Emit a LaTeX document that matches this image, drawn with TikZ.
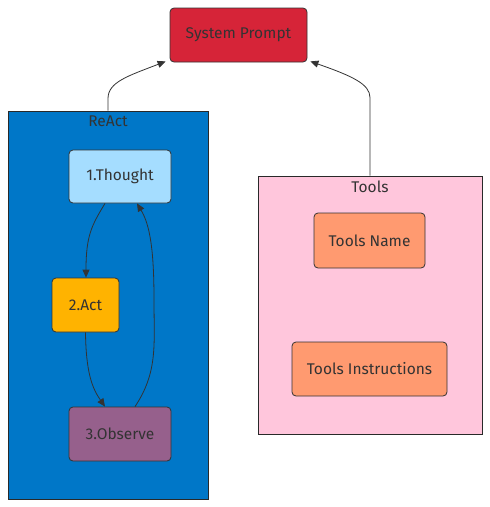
\documentclass[tikz,border=0pt]{standalone}
\usepackage{fontspec}
\setmainfont{Fira Sans}
\usepackage{xcolor}
\usetikzlibrary{positioning,calc,arrows.meta}

\definecolor{txtgray}{HTML}{333333}
\definecolor{sysred}{HTML}{D62438}
\definecolor{reactblue}{HTML}{0077C8}
\definecolor{thoughtblue}{HTML}{A5DDFF}
\definecolor{actorange}{HTML}{FFB300}
\definecolor{observepurple}{HTML}{96608C}
\definecolor{toolspink}{HTML}{FFC6DC}
\definecolor{itemsalmon}{HTML}{FF9A70}

\tikzset{
    box/.style={draw=txtgray, line width=0.8pt, rounded corners=4pt, text=txtgray,
        font=\fontsize{15.5}{18}\selectfont, inner sep=0pt},
    cluster/.style={draw=txtgray!80!black, line width=0.8pt, inner sep=0pt},
    title/.style={text=txtgray, font=\fontsize{15.5}{18}\selectfont, anchor=north, inner sep=5.5pt},
    edge/.style={draw=txtgray, line width=0.8pt, -{Triangle[length=8pt,width=7pt]}}
}

\begin{document}
\begin{tikzpicture}[x=1pt,y=-1pt]
    \useasboundingbox (0,0) rectangle (490,507);

    % Top node
    \node[box, fill=sysred, minimum width=137pt, minimum height=54pt] (sys) at (238.5,35) {System Prompt};

    % ReAct cluster
    \node[cluster, fill=reactblue, minimum width=200pt, minimum height=388pt] (react) at (108,305) {};
    \node[title] (reacttitle) at (react.north) {ReAct};
    \node[box, fill=thoughtblue, minimum width=102pt, minimum height=53pt] (thought) at (120,176.5) {1.Thought};
    \node[box, fill=actorange, minimum width=67pt, minimum height=54pt] (act) at (85.5,305) {2.Act};
    \node[box, fill=observepurple, minimum width=102pt, minimum height=54pt] (observe) at (120,434) {3.Observe};

    % Tools cluster
    \node[cluster, fill=toolspink, minimum width=224pt, minimum height=258pt] (tools) at (370,305) {};
    \node[title] (toolstitle) at (tools.north) {Tools};
    \node[box, fill=itemsalmon, minimum width=111pt, minimum height=55pt] (tname) at (369.5,240.5) {Tools Name};
    \node[box, fill=itemsalmon, minimum width=155pt, minimum height=54pt] (tinstr) at (369.5,369) {Tools Instructions};

    % Connectors
    \draw[edge] (react.north) -- ++(0,-12) .. controls (108,82) and (128,76) .. ([xshift=-4pt,yshift=1pt]sys.south west);
    \draw[edge] (tools.north) -- ++(0,-78) .. controls (370,84) and (352,76) .. ([xshift=3pt,yshift=1pt]sys.south east);
    \draw[edge] ([xshift=-15pt]thought.south) .. controls (92,225) and (86,235) .. ([xshift=0.5pt]act.north);
    \draw[edge] (act.south) .. controls (86,372) and (92,388) .. ([xshift=-15pt]observe.north);
    \draw[edge] ([xshift=15pt]observe.north) .. controls (158,372) and (154,345) .. (154,300)
        .. controls (154,250) and (150,225) .. ([xshift=17pt]thought.south);
\end{tikzpicture}
\end{document}
